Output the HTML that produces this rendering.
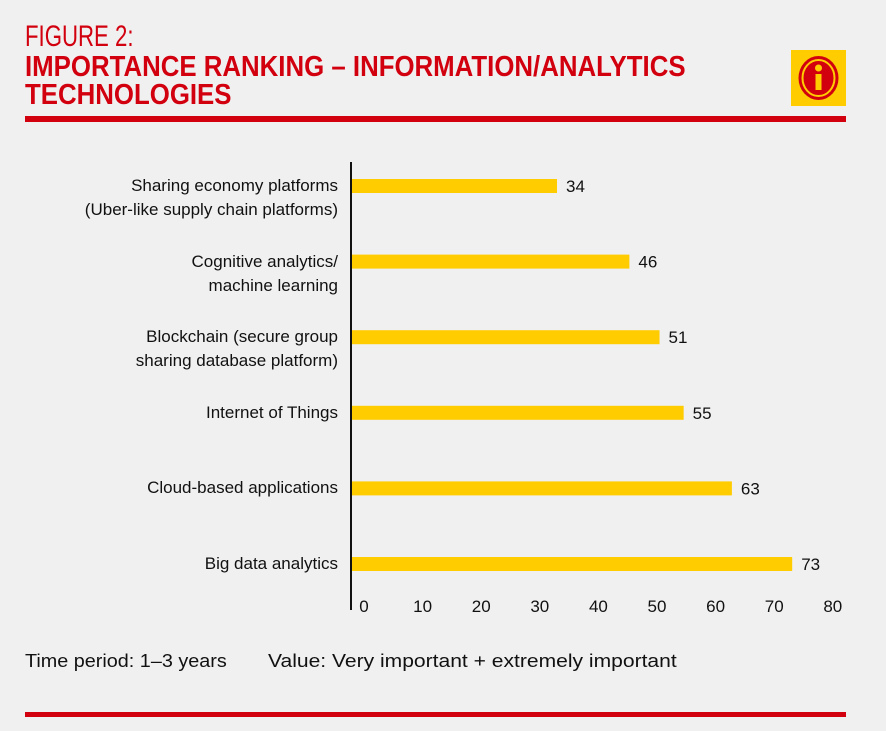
<!DOCTYPE html>
<html><head><meta charset="utf-8"><style>
body{margin:0;background:#f0f0f0;font-family:"Liberation Sans",sans-serif;}
#wrap{position:relative;width:886px;height:731px;overflow:hidden;background:#f0f0f0}
.t{position:absolute;color:#d2000f;white-space:nowrap;transform-origin:0 0;font-family:"Liberation Sans",sans-serif}
.lab{position:absolute;right:548px;text-align:right;font-size:17px;color:#111;line-height:24px;white-space:nowrap}
.note{position:absolute;top:651px;font-size:18px;color:#111;white-space:nowrap;transform-origin:0 0}
</style></head><body>
<div id="wrap">
<div class="t" style="left:25px;top:20px;font-size:30px;transform:scaleX(0.74)">FIGURE 2:</div>
<div class="t" style="left:25px;top:53px;font-size:29px;font-weight:bold;line-height:28px;transform:scaleX(0.89)">IMPORTANCE RANKING – INFORMATION/ANALYTICS<br>TECHNOLOGIES</div>
<svg style="position:absolute;left:791px;top:50px" width="55" height="56">
<rect width="55" height="56" fill="#ffcc00"/>
<ellipse cx="27.5" cy="28" rx="20" ry="22" fill="#d2000f"/>
<ellipse cx="27.5" cy="28" rx="16" ry="18" fill="none" stroke="#ffcc00" stroke-width="2"/>
<circle cx="27.5" cy="18" r="3.5" fill="#ffcc00"/>
<rect x="24.5" y="24" width="6" height="16" fill="#ffcc00"/>
</svg>
<div style="position:absolute;left:25px;top:116px;width:821px;height:6px;background:#d2000f"></div>
<svg id="chart" style="position:absolute;left:0;top:0" width="886" height="731"></svg>
<div class="note" style="left:25px;transform:scaleX(1.1)">Time period: 1–3 years</div>
<div class="note" style="left:268px;transform:scaleX(1.17)">Value: Very important + extremely important</div>
<div style="position:absolute;left:25px;top:712px;width:821px;height:5px;background:#d2000f"></div>
</div>
<script>
const categories=[["Sharing economy platforms","(Uber-like supply chain platforms)"],["Cognitive analytics/","machine learning"],["Blockchain (secure group","sharing database platform)"],["Internet of Things"],["Cloud-based applications"],["Big data analytics"]];
const values=[34,46,51,55,63,73];
const ticks=[0,10,20,30,40,50,60,70,80];
const NS="http://www.w3.org/2000/svg";
const svg=document.getElementById('chart');
const x0=352,scale=6.03;
function xs(v){return x0+v*scale;}
function yc(i){return 186+i*75.6;}
function tx(v){return 364+v*5.86;}
const ax=document.createElementNS(NS,'line');
ax.setAttribute('x1',351);ax.setAttribute('x2',351);ax.setAttribute('y1',162);ax.setAttribute('y2',610);
ax.setAttribute('stroke','#111');ax.setAttribute('stroke-width','2');


svg.appendChild(ax);
values.forEach((v,i)=>{
 const r=document.createElementNS(NS,'rect');
 r.setAttribute('x',x0);r.setAttribute('y',yc(i)-7);r.setAttribute('width',xs(v)-x0);r.setAttribute('height',14);r.setAttribute('fill','#ffcc00');
 
 
 svg.appendChild(r);
 const t=document.createElementNS(NS,'text');
 t.setAttribute('x',xs(v)+9);t.setAttribute('y',yc(i)+6);t.setAttribute('font-size','17');t.setAttribute('fill','#111');t.setAttribute('font-family','Liberation Sans, sans-serif');
 t.textContent=v;
 
 
 svg.appendChild(t);
 const d=document.createElement('div');
 d.className='lab';
 d.style.top=(yc(i)-12)+'px';
 d.innerHTML=categories[i].join('<br>');
 
 
 document.getElementById('wrap').appendChild(d);
});
ticks.forEach(v=>{
 const t=document.createElementNS(NS,'text');
 t.setAttribute('x',tx(v));t.setAttribute('y',612);t.setAttribute('text-anchor','middle');t.setAttribute('font-size','17');t.setAttribute('fill','#111');t.setAttribute('font-family','Liberation Sans, sans-serif');
 t.textContent=v;
 
 
 svg.appendChild(t);
});
</script>
</body></html>
